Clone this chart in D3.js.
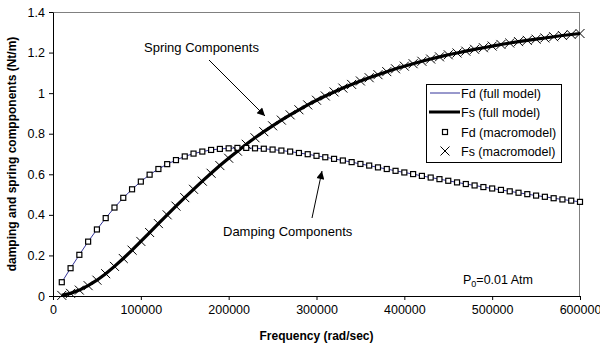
<!DOCTYPE html>
<html>
<head>
<meta charset="utf-8">
<script src="https://cdn.jsdelivr.net/npm/d3@7"></script>
<style>
  body { margin: 0; background: #fff; }
  text { font-family: "Liberation Sans", Arial, sans-serif; fill: #000; }
</style>
</head>
<body>
<div id="chart"></div>
<script>
// frequency samples (rad/sec)
var freq = [10000, 20000, 30000, 40000, 50000, 60000, 70000, 80000, 90000, 100000,
  110000, 120000, 130000, 140000, 150000, 160000, 170000, 180000, 190000, 200000,
  210000, 220000, 230000, 240000, 250000, 260000, 270000, 280000, 290000, 300000,
  310000, 320000, 330000, 340000, 350000, 360000, 370000, 380000, 390000, 400000,
  410000, 420000, 430000, 440000, 450000, 460000, 470000, 480000, 490000, 500000,
  510000, 520000, 530000, 540000, 550000, 560000, 570000, 580000, 590000, 600000];

// damping component (Nt/m)
var fd = [0.068, 0.137, 0.203, 0.268, 0.328, 0.384, 0.436, 0.484, 0.526, 0.564,
  0.598, 0.626, 0.650, 0.670, 0.688, 0.702, 0.712, 0.720, 0.725, 0.728,
  0.730, 0.730, 0.728, 0.726, 0.722, 0.717, 0.712, 0.705, 0.699, 0.691,
  0.684, 0.676, 0.668, 0.660, 0.651, 0.643, 0.634, 0.626, 0.617, 0.609,
  0.601, 0.592, 0.584, 0.576, 0.568, 0.560, 0.552, 0.545, 0.537, 0.530,
  0.523, 0.516, 0.509, 0.502, 0.495, 0.489, 0.482, 0.476, 0.470, 0.464];

// spring component (Nt/m)
var fs = [0.003, 0.013, 0.029, 0.051, 0.078, 0.110, 0.146, 0.185, 0.226, 0.269,
  0.313, 0.357, 0.400, 0.443, 0.485, 0.526, 0.566, 0.605, 0.643, 0.679,
  0.714, 0.748, 0.780, 0.810, 0.839, 0.867, 0.893, 0.918, 0.942, 0.965,
  0.986, 1.006, 1.025, 1.043, 1.060, 1.076, 1.091, 1.106, 1.120, 1.133,
  1.145, 1.157, 1.168, 1.179, 1.189, 1.198, 1.207, 1.216, 1.224, 1.232,
  1.240, 1.247, 1.254, 1.260, 1.266, 1.272, 1.278, 1.284, 1.289, 1.294];

var xTicks = [0, 100000, 200000, 300000, 400000, 500000, 600000];
var yTicks = [0, 0.2, 0.4, 0.6, 0.8, 1, 1.2, 1.4];
var legendLabels = ["Fd (full model)", "Fs (full model)", "Fd (macromodel)", "Fs (macromodel)"];

var svgWidth = 600;
var svgHeight = 349;
var margin = { top: 12, right: 20, bottom: 53, left: 53 };
var width = svgWidth - margin.left - margin.right;
var height = svgHeight - margin.top - margin.bottom;
var fontFam = "'Liberation Sans', Arial, sans-serif";

var data = freq.map(function(f, i) { return { f: f, fd: fd[i], fs: fs[i] }; });

var svg = d3.select("#chart").append("svg")
  .attr("width", svgWidth).attr("height", svgHeight);

var chartGroup = svg.append("g")
  .attr("transform", `translate(${margin.left}, ${margin.top})`);

var x = d3.scaleLinear().domain([0, 600000]).range([0, width]);
var y = d3.scaleLinear().domain([0, 1.4]).range([height, 0]);

// gray frame on top and right
chartGroup.append("line")
  .attr("x1", 0).attr("x2", width).attr("y1", 0.5).attr("y2", 0.5)
  .attr("stroke", "#808080");
chartGroup.append("line")
  .attr("x1", width - 0.5).attr("x2", width - 0.5).attr("y1", 0).attr("y2", height)
  .attr("stroke", "#808080");

var bottomAxis = d3.axisBottom(x).tickValues(xTicks).tickFormat(d3.format("d"))
  .tickSize(4).tickSizeOuter(0).tickPadding(5);
var leftAxis = d3.axisLeft(y).tickValues(yTicks).tickFormat(d => String(+d.toFixed(1)))
  .tickSize(4).tickSizeOuter(0).tickPadding(4);

var xAxis = chartGroup.append("g")
  .attr("transform", `translate(0, ${height})`)
  .call(bottomAxis);
var yAxis = chartGroup.append("g").call(leftAxis);

[xAxis, yAxis].forEach(function(a) {
  a.selectAll("text").style("font-size", "12.5px").style("font-family", fontFam);
  a.select(".domain").attr("stroke", "#000");
  a.selectAll(".tick line").attr("stroke", "#000");
});

// axis titles
svg.append("text")
  .attr("x", margin.left + width / 2)
  .attr("y", 340)
  .attr("text-anchor", "middle")
  .style("font-size", "12px").style("font-weight", "bold")
  .text("Frequency (rad/sec)");

svg.append("text")
  .attr("transform", "rotate(-90)")
  .attr("x", -(margin.top + height / 2))
  .attr("y", 16)
  .attr("text-anchor", "middle")
  .style("font-size", "12px").style("font-weight", "bold")
  .text("damping and spring compponents (Nt/m)");

// full model lines
var lineFd = d3.line().x(d => x(d.f)).y(d => y(d.fd));
var lineFs = d3.line().x(d => x(d.f)).y(d => y(d.fs));

chartGroup.append("path").datum(data)
  .attr("d", lineFd).attr("fill", "none")
  .attr("stroke", "#333399").attr("stroke-width", 1);

chartGroup.append("path").datum(data)
  .attr("d", lineFs).attr("fill", "none")
  .attr("stroke", "#000").attr("stroke-width", 3.2);

// macromodel markers
chartGroup.selectAll(".sq").data(data).enter()
  .append("rect").attr("class", "sq")
  .attr("x", d => x(d.f) - 2.5).attr("y", d => y(d.fd) - 2.5)
  .attr("width", 5).attr("height", 5)
  .attr("fill", "#fff").attr("stroke", "#000").attr("stroke-width", 1.2);

var xmark = function(g, cx, cy) {
  g.append("path")
    .attr("d", `M${cx - 4.5},${cy - 4.5}L${cx + 4.5},${cy + 4.5}M${cx - 4.5},${cy + 4.5}L${cx + 4.5},${cy - 4.5}`)
    .attr("stroke", "#000").attr("stroke-width", 1).attr("fill", "none");
};
var xGroup = chartGroup.append("g");
data.forEach(function(d) { xmark(xGroup, x(d.f), y(d.fs)); });

// annotations with arrows
svg.append("defs").append("marker")
  .attr("id", "arrow")
  .attr("viewBox", "0 0 10 10")
  .attr("refX", 10).attr("refY", 5)
  .attr("markerWidth", 11).attr("markerHeight", 8)
  .attr("markerUnits", "userSpaceOnUse")
  .attr("orient", "auto")
  .append("path").attr("d", "M0,0L10,5L0,10Z").attr("fill", "#000");

svg.append("text")
  .attr("x", 144).attr("y", 52)
  .style("font-size", "13px")
  .text("Spring Components");
svg.append("line")
  .attr("x1", 209).attr("y1", 60).attr("x2", 265).attr("y2", 116)
  .attr("stroke", "#000").attr("stroke-width", 1)
  .attr("marker-end", "url(#arrow)");

svg.append("text")
  .attr("x", 223).attr("y", 236)
  .style("font-size", "13px")
  .text("Damping Components");
svg.append("line")
  .attr("x1", 312).attr("y1", 218).attr("x2", 322).attr("y2", 171)
  .attr("stroke", "#000").attr("stroke-width", 1)
  .attr("marker-end", "url(#arrow)");

// pressure note
var pText = svg.append("text")
  .attr("x", 463).attr("y", 284)
  .style("font-size", "12.5px");
pText.append("tspan").text("P");
pText.append("tspan").attr("dy", 3).style("font-size", "9px").text("0");
pText.append("tspan").attr("dy", -3).text("=0.01 Atm");

// legend
var legend = svg.append("g");
legend.append("rect")
  .attr("x", 426.5).attr("y", 84.5).attr("width", 135).attr("height", 78)
  .attr("fill", "#fff").attr("stroke", "#000").attr("stroke-width", 1);

var rowY = [93, 112, 132, 151];
legendLabels.forEach(function(label, i) {
  legend.append("text")
    .attr("x", 461).attr("y", rowY[i] + 4.5)
    .style("font-size", "12.5px")
    .text(label);
});
legend.append("line").attr("x1", 430).attr("x2", 460)
  .attr("y1", rowY[0]).attr("y2", rowY[0])
  .attr("stroke", "#333399").attr("stroke-width", 1);
legend.append("line").attr("x1", 429).attr("x2", 460)
  .attr("y1", rowY[1]).attr("y2", rowY[1])
  .attr("stroke", "#000").attr("stroke-width", 3);
legend.append("rect")
  .attr("x", 442.5).attr("y", rowY[2] - 2.5).attr("width", 5).attr("height", 5)
  .attr("fill", "#fff").attr("stroke", "#000").attr("stroke-width", 1.2);
xmark(legend, 445, rowY[3]);
</script>
</body>
</html>
